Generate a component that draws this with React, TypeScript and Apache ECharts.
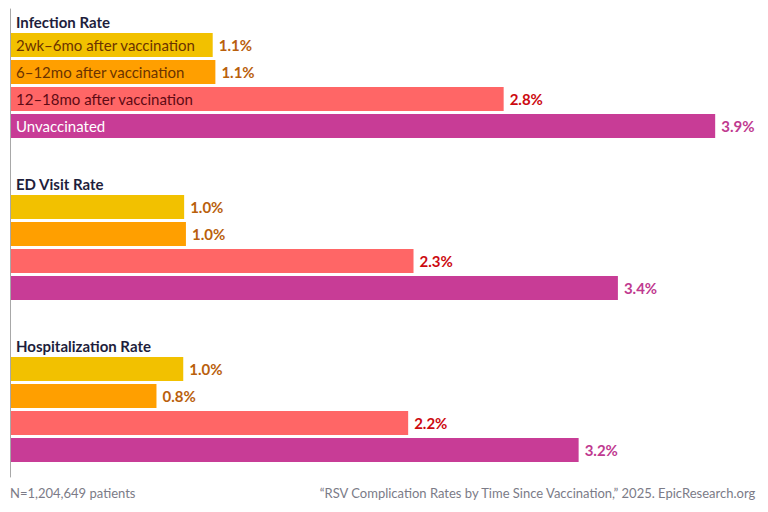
import React, { useEffect, useRef } from "react";
import * as echarts from "echarts";

// Outcome groups and the vaccination cohorts shown within each group
const outcomeGroups = ["Infection Rate", "ED Visit Rate", "Hospitalization Rate"];
const cohorts = [
  "2wk–6mo after vaccination",
  "6–12mo after vaccination",
  "12–18mo after vaccination",
  "Unvaccinated",
];

// Rates in percent, one value per cohort
const infectionRate = [1.13, 1.145, 2.76, 3.945];
const edVisitRate = [0.97, 0.98, 2.255, 3.4];
const hospitalizationRate = [0.965, 0.815, 2.225, 3.18];

const footnoteLeft = "N=1,204,649 patients";
const footnoteRight = "“RSV Complication Rates by Time Since Vaccination,” 2025. EpicResearch.org";

const barColors = ["#F2C100", "#FF9F00", "#FF6666", "#C83C96"];
const nameColors = ["#6B3300", "#6B3300", "#5E0A14", "#FFFFFF"];
const valueColors = ["#B9600C", "#B9600C", "#CC0A10", "#BF3A90"];

type Row = { kind: "title" | "bar" | "blank"; group: number; cohort: number };

export default function App() {
  const ref = useRef<HTMLDivElement>(null);

  useEffect(() => {
    if (!ref.current) return;
    const chart = echarts.init(ref.current, null, { renderer: "svg" });

    const groupValues = [infectionRate, edVisitRate, hospitalizationRate];
    const rows: Row[] = [];
    outcomeGroups.forEach((_, g) => {
      rows.push({ kind: "title", group: g, cohort: -1 });
      cohorts.forEach((_, c) => rows.push({ kind: "bar", group: g, cohort: c }));
      if (g < outcomeGroups.length - 1) rows.push({ kind: "blank", group: g, cohort: -1 });
    });

    const categories = rows.map((r, i) => `row${i}`);
    const data = rows.map((r) => {
      if (r.kind !== "bar") return { value: "-" as any };
      return {
        value: groupValues[r.group][r.cohort],
        itemStyle: { color: barColors[r.cohort] },
        label: { color: valueColors[r.cohort] },
      };
    });

    const font = "Lato, 'Open Sans', sans-serif";
    const rich: Record<string, any> = {
      title: {
        fontFamily: font,
        fontSize: 15,
        fontWeight: "bold",
        color: "#1E1E3C",
        padding: [8, 0, 0, 0],
      },
    };
    nameColors.forEach((col, i) => {
      rich[`c${i}`] = { fontFamily: font, fontSize: 15, color: col };
    });

    chart.setOption({
      animation: false,
      grid: [
        { left: 11, top: 4.5, width: 4.2 * 178.5, height: rows.length * 27 },
        { left: 10.5, top: 9, width: 1, height: 468 },
      ],
      xAxis: [
        { type: "value", min: 0, max: 4.2, show: false, gridIndex: 0 },
        { type: "value", show: false, gridIndex: 1 },
      ],
      yAxis: [
        {
          type: "category",
          gridIndex: 0,
          data: categories,
          inverse: true,
          z: 10,
          axisLine: { show: false },
          axisTick: { show: false },
          splitLine: { show: false },
          axisLabel: {
            inside: true,
            interval: 0,
            margin: 5,
            align: "left",
            formatter: (_: string, idx: number) => {
              const r = rows[idx];
              if (r.kind === "title") return `{title|${outcomeGroups[r.group]}}`;
              if (r.kind === "bar" && r.group === 0) return `{c${r.cohort}|${cohorts[r.cohort]}}`;
              return "";
            },
            rich,
          },
        },
        {
          type: "value",
          gridIndex: 1,
          axisLine: { show: true, lineStyle: { color: "#A8A8A8", width: 1 } },
          axisTick: { show: false },
          axisLabel: { show: false },
          splitLine: { show: false },
        },
      ],
      series: [
        {
          type: "bar",
          xAxisIndex: 0,
          yAxisIndex: 0,
          data,
          barWidth: 24,
          label: {
            show: true,
            position: "right",
            distance: 6,
            fontFamily: font,
            fontSize: 15,
            fontWeight: "bold",
            formatter: (p: any) => `${(Math.round(p.value * 10) / 10).toFixed(1)}%`,
          },
        },
      ],
      graphic: [
        {
          type: "text",
          left: 10,
          top: 486,
          style: { text: footnoteLeft, fontFamily: font, fontSize: 13, fill: "#7B7B87" },
        },
        {
          type: "text",
          right: 11,
          top: 486,
          style: { text: footnoteRight, fontFamily: font, fontSize: 13, fill: "#7B7B87" },
        },
      ],
    });

    return () => chart.dispose();
  }, []);

  return (
    <div
      ref={ref}
      style={{ position: "fixed", left: 0, top: 0, width: 768, height: 512, background: "#fff" }}
    />
  );
}
